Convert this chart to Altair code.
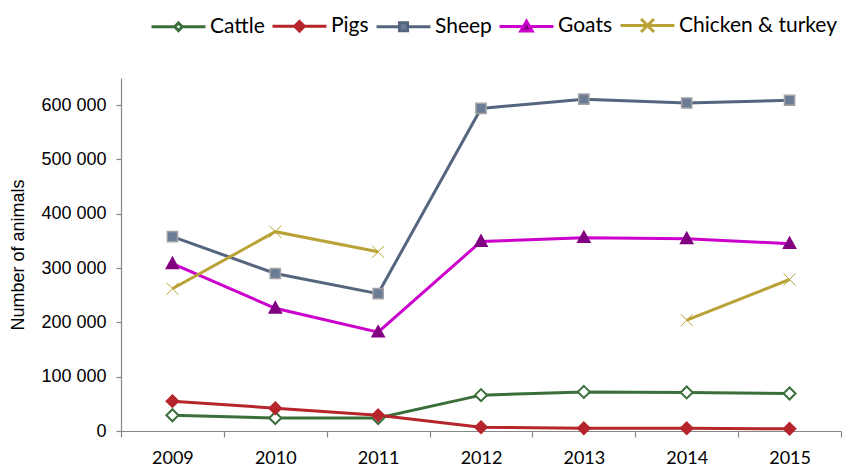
import altair as alt
import pandas as pd

years = ["2009", "2010", "2011", "2012", "2013", "2014", "2015"]
series_names = ["Cattle", "Pigs", "Sheep", "Goats", "Chicken & turkey"]
cattle = [29000, 24000, 24000, 66000, 72000, 71000, 69000]
pigs = [55000, 42000, 29000, 7000, 5000, 5000, 4000]
sheep = [358000, 290000, 253000, 594000, 611000, 604000, 609000]
goats = [308000, 226000, 182000, 349000, 356000, 354000, 345000]
chicken = [262000, 367000, 330000, None, None, 204000, 279000]
y_ticks = [0, 100000, 200000, 300000, 400000, 500000, 600000]

line_colors = ["#3A6E3A", "#B5252B", "#56657E", "#CC00CC", "#B9A337"]
marker_fill = ["#FFFFFF", "#B5252B", "#6B7C96", "#800080", "#B9A337"]
marker_stroke = ["#3A6E3A", "#B5252B", "#A3A3A3", "#800080", "#B9A337"]
marker_stroke_w = [2, 1, 2, 1, 2]
marker_paths = [
    "M0,-1L1,0L0,1L-1,0Z",
    "M0,-1L1,0L0,1L-1,0Z",
    "M-0.85,-0.85H0.85V0.85H-0.85Z",
    "M0,-1.1L1.05,0.8H-1.05Z",
    "M-1,-1L1,1M1,-1L-1,1",
]
legend_paths = [
    "M-1,0H-0.14M0.14,0H1M0,-0.14L0.14,0L0,0.14L-0.14,0Z",
    "M-1,0H-0.18M0.18,0H1M0,-0.18L0.18,0L0,0.18L-0.18,0Z",
    "M-1,0H-0.15M0.15,0H1M-0.15,-0.15H0.15V0.15H-0.15Z",
    "M-1,0H-0.1M0.1,0H1M0,-0.19L0.21,0.17H-0.21Z",
    "M-1,0H1M-0.24,-0.24L0.24,0.24M0.24,-0.24L-0.24,0.24",
]

rows = []
for name, vals in zip(series_names, [cattle, pigs, sheep, goats, chicken]):
    seg = 0
    for yr, v in zip(years, vals):
        if v is None:
            seg += 1
            continue
        rows.append({"year": yr, "series": name, "value": v, "segment": f"{name}-{seg}"})
df = pd.DataFrame(rows)

x_enc = alt.X(
    "year:O",
    sort=years,
    scale=alt.Scale(paddingInner=0, paddingOuter=0),
    axis=alt.Axis(
        title=None, labelAngle=0, tickBand="extent", labelFont="Lato",
        labelFontSize=18, labelColor="black", labelPadding=12, tickSize=6,
        domainColor="#868686", tickColor="#868686", domainWidth=1.2, tickWidth=1.2,
    ),
)
y_enc = alt.Y(
    "value:Q",
    scale=alt.Scale(domain=[0, 650000], nice=False),
    axis=alt.Axis(
        title="Number of animals", values=y_ticks, grid=False,
        labelExpr="replace(format(datum.value, ','), ',', ' ')",
        labelFont="Liberation Sans", labelFontSize=18, labelColor="black",
        labelPadding=10, tickSize=5, titleFont="Liberation Sans", titleFontSize=18,
        titleFontWeight="normal", titleColor="black", titlePadding=13,
        domainColor="#868686", tickColor="#868686", domainWidth=1.2, tickWidth=1.2,
    ),
)

lines = alt.Chart(df).mark_line(strokeWidth=3).encode(
    x=x_enc,
    y=y_enc,
    detail="segment:N",
    stroke=alt.Stroke("series:N", scale=alt.Scale(domain=series_names, range=line_colors), legend=None),
)

points = alt.Chart(df).mark_point(size=144, filled=False, opacity=1).encode(
    x=alt.X("year:O", sort=years),
    y="value:Q",
    shape=alt.Shape("series:N", scale=alt.Scale(domain=series_names, range=marker_paths), legend=None),
    fill=alt.Fill("series:N", scale=alt.Scale(domain=series_names, range=marker_fill), legend=None),
    stroke=alt.Stroke("series:N", scale=alt.Scale(domain=series_names, range=marker_stroke), legend=None),
    strokeWidth=alt.StrokeWidth("series:N", scale=alt.Scale(domain=series_names, range=marker_stroke_w), legend=None),
)

legend_def = alt.Legend(
    title=None, orient="none", legendX=29, legendY=-81,
    direction="horizontal", columns=5, symbolSize=2916,
    symbolStrokeWidth=3, symbolOpacity=1, labelFont="Lato", labelFontSize=21,
    labelColor="black", labelOffset=3, columnPadding=1, padding=0, labelLimit=300,
)

legend_layer = alt.Chart(df).transform_filter("false").mark_point(
    size=2916, filled=False, opacity=1, strokeWidth=3
).encode(
    x=alt.X("year:O", sort=years),
    y="value:Q",
    shape=alt.Shape("series:N", scale=alt.Scale(domain=series_names, range=legend_paths), legend=legend_def),
    fill=alt.Fill("series:N", scale=alt.Scale(domain=series_names, range=marker_fill), legend=legend_def),
    stroke=alt.Stroke("series:N", scale=alt.Scale(domain=series_names, range=line_colors), legend=legend_def),
)

chart = (
    alt.layer(lines, points, legend_layer)
    .resolve_scale(stroke="independent", fill="independent", shape="independent")
    .properties(
        width=720, height=353,
        autosize=alt.AutoSizeParams(type="none"),
        padding={"left": 113, "top": 70, "right": 6, "bottom": 36},
    )
    .configure_view(stroke=None)
)

chart.save("out.html", embed_options={"renderer": "svg", "actions": False})
